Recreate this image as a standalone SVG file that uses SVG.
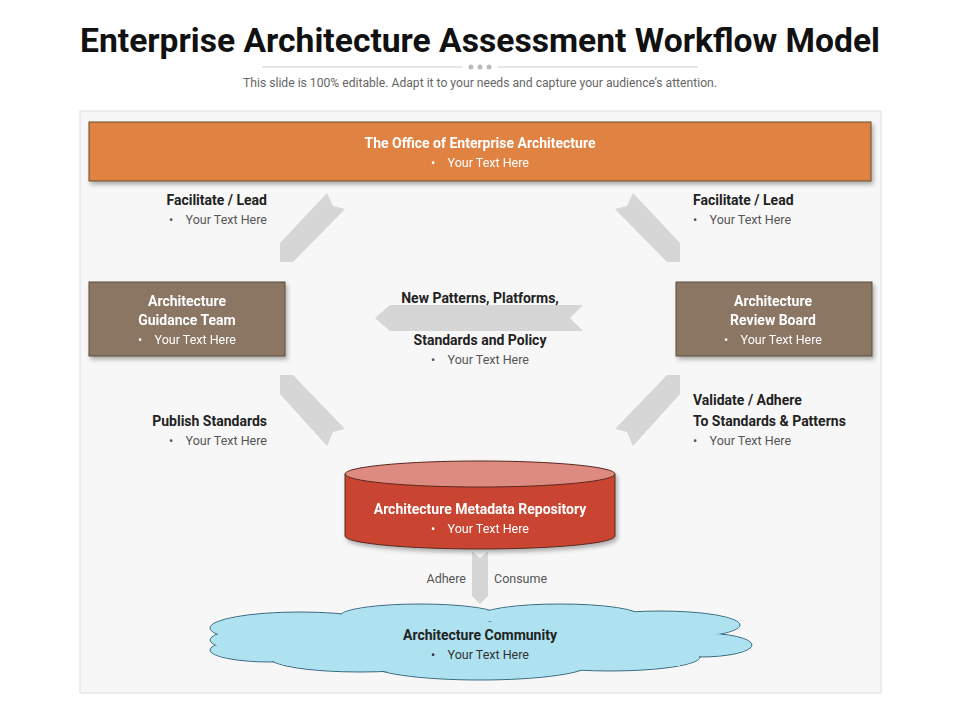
<svg xmlns="http://www.w3.org/2000/svg" width="960" height="720" viewBox="0 0 960 720" xml:space="preserve">
<defs>
<style>
text{font-family:Roboto,"Liberation Sans",sans-serif;white-space:pre}
.h{font-weight:bold;font-size:14px;fill:#222}
.b{font-size:12.5px;fill:#555}
.wh{font-weight:bold;font-size:14px;fill:#fff}
.wb{font-size:12.5px;fill:#fff}
.arr{fill:#d6d6d6}
.box{stroke:#5a4a3a;stroke-width:1}
</style>
<filter id="sh" x="-5%" y="-10%" width="115%" height="130%"><feDropShadow dx="2" dy="3" stdDeviation="2" flood-color="#000" flood-opacity="0.3"/></filter>
</defs>
<rect width="960" height="720" fill="#fff"/>
<text x="480" y="52" text-anchor="middle" font-size="33" font-weight="bold" fill="#111" textLength="800" lengthAdjust="spacingAndGlyphs">Enterprise Architecture Assessment Workflow Model</text>
<line x1="262" y1="67" x2="462" y2="67" stroke="#ccc"/>
<line x1="498" y1="67" x2="698" y2="67" stroke="#ccc"/>
<circle cx="471" cy="67" r="2.5" fill="#bbb"/><circle cx="480" cy="67" r="2.5" fill="#bbb"/><circle cx="489" cy="67" r="2.5" fill="#bbb"/>
<text x="480" y="87" text-anchor="middle" font-size="12.5" fill="#666" textLength="474" lengthAdjust="spacingAndGlyphs">This slide is 100% editable. Adapt it to your needs and capture your audience’s attention.</text>
<rect x="80" y="111" width="801" height="582" fill="#f7f7f7" stroke="#ddd"/>

<g id="connectors">
<polygon class="arr" points="327,193 333,206 345,209 293,262 280,262 280,243"/>
<polygon class="arr" points="633,193 627,206 615,209 667,262 680,262 680,243"/>
<polygon class="arr" points="280,375 293,375 345,429 333,432 327,446 280,394"/>
<polygon class="arr" points="680,375 667,375 615,429 627,432 633,446 680,394"/>
<polygon class="arr" points="375,318 390,305 583,305 570,318 583,331 390,331"/>
<polygon class="arr" points="472,551 480,558 488,551 488,596 480,604 472,596"/>
</g>

<g id="office" filter="url(#sh)">
<rect x="89" y="122" width="782" height="59" fill="#e08243" stroke="#6b4a2a"/>
<text x="480" y="148" text-anchor="middle" class="wh">The Office of Enterprise Architecture</text>
<text x="480" y="167" text-anchor="middle" class="wb">•    Your Text Here</text>
</g>

<g id="guidance" filter="url(#sh)">
<rect x="89" y="282" width="196" height="74" fill="#8b7464" class="box"/>
<text x="187" y="306" text-anchor="middle" class="wh">Architecture</text>
<text x="187" y="325" text-anchor="middle" class="wh">Guidance Team</text>
<text x="187" y="344" text-anchor="middle" class="wb">•    Your Text Here</text>
</g>

<g id="review" filter="url(#sh)">
<rect x="676" y="282" width="196" height="74" fill="#8b7464" class="box"/>
<text x="773" y="306" text-anchor="middle" class="wh">Architecture</text>
<text x="773" y="325" text-anchor="middle" class="wh">Review Board</text>
<text x="773" y="344" text-anchor="middle" class="wb">•    Your Text Here</text>
</g>

<g id="labels">
<text x="267" y="205" text-anchor="end" class="h">Facilitate / Lead</text>
<text x="267" y="224" text-anchor="end" class="b">•    Your Text Here</text>
<text x="693" y="205" class="h">Facilitate / Lead</text>
<text x="693" y="224" class="b">•    Your Text Here</text>
<text x="480" y="303" text-anchor="middle" class="h">New Patterns, Platforms,</text>
<text x="480" y="345" text-anchor="middle" class="h">Standards and Policy</text>
<text x="480" y="364" text-anchor="middle" class="b">•    Your Text Here</text>
<text x="267" y="426" text-anchor="end" class="h">Publish Standards</text>
<text x="267" y="445" text-anchor="end" class="b">•    Your Text Here</text>
<text x="693" y="405" class="h">Validate / Adhere</text>
<text x="693" y="426" class="h">To Standards &amp; Patterns</text>
<text x="693" y="445" class="b">•    Your Text Here</text>
<text x="466" y="583" text-anchor="end" class="b">Adhere</text>
<text x="494" y="583" class="b">Consume</text>
</g>

<g id="repository" filter="url(#sh)">
<path d="M345,474 V536 A135,13 0 0 0 615,536 V474 Z" fill="#c94432" stroke="#5a2a20"/>
<ellipse cx="480" cy="474" rx="135" ry="13" fill="#dd8b80" stroke="#5a2a20"/>
<text x="480" y="514" text-anchor="middle" class="wh">Architecture Metadata Repository</text>
<text x="480" y="533" text-anchor="middle" class="wb">•    Your Text Here</text>
</g>

<g id="community">
<g fill="#aee2f0" stroke="#3a6a80" stroke-width="1">
<ellipse cx="300" cy="628" rx="90" ry="16"/>
<ellipse cx="270" cy="650" rx="60" ry="12"/>
<ellipse cx="265" cy="640" rx="55" ry="12"/>
<ellipse cx="420" cy="616" rx="80" ry="12"/>
<ellipse cx="560" cy="616" rx="80" ry="12"/>
<ellipse cx="660" cy="625" rx="80" ry="14"/>
<ellipse cx="700" cy="645" rx="52" ry="12"/>
<ellipse cx="480" cy="664" rx="110" ry="16"/>
<ellipse cx="360" cy="658" rx="90" ry="14"/>
<ellipse cx="610" cy="657" rx="90" ry="14"/>
</g>
<g fill="#aee2f0">
<ellipse cx="300" cy="628" rx="89" ry="15"/>
<ellipse cx="270" cy="650" rx="59" ry="11"/>
<ellipse cx="265" cy="640" rx="54" ry="11"/>
<ellipse cx="420" cy="616" rx="79" ry="11"/>
<ellipse cx="560" cy="616" rx="79" ry="11"/>
<ellipse cx="660" cy="625" rx="79" ry="13"/>
<ellipse cx="700" cy="645" rx="51" ry="11"/>
<ellipse cx="480" cy="664" rx="109" ry="15"/>
<ellipse cx="360" cy="658" rx="89" ry="13"/>
<ellipse cx="610" cy="657" rx="89" ry="13"/>
<rect x="300" y="622" width="380" height="44"/>
</g>
<text x="480" y="640" text-anchor="middle" class="h">Architecture Community</text>
<text x="480" y="659" text-anchor="middle" class="b" style="fill:#333">•    Your Text Here</text>
</g>
</svg>
